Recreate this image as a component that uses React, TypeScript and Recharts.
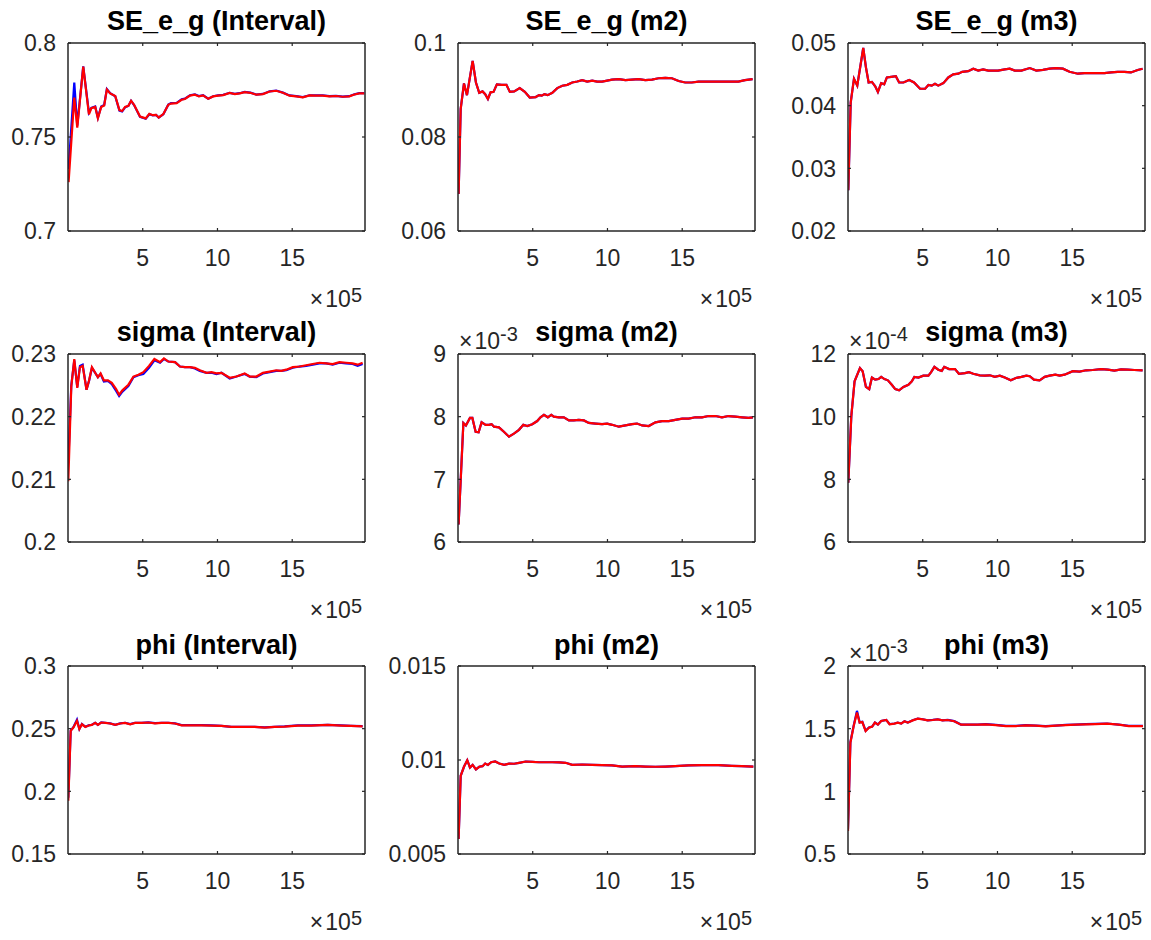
import React from 'react';
import { LineChart, Line, XAxis, YAxis, ReferenceLine } from 'recharts';

const FONT = '"Liberation Sans", Arial, Helvetica, sans-serif';
const AXIS = '#262626';
const X_MAX = 19.87;
const xTicks = [5, 10, 15];
const xTickLabels = ['5', '10', '15'];
const xMultiplierExp = '5';

// ---------- SE_e_g (Interval) ----------
const seIntervalX = [0.04, 0.42, 0.62, 1.02, 1.4, 1.56, 1.82, 2.0, 2.22, 2.42, 2.6, 2.82, 3.16, 3.44, 3.62, 3.82, 4.04, 4.22, 4.42, 4.82, 5.2, 5.44, 5.67, 5.89, 6.07, 6.38, 6.71, 6.89, 7.27, 7.6, 7.82, 8.16, 8.49, 8.76, 9.04, 9.38, 9.71, 10.04, 10.38, 10.82, 11.16, 11.49, 11.82, 12.2, 12.6, 13.04, 13.49, 13.93, 14.38, 14.82, 15.27, 15.71, 16.16, 16.6, 17.04, 17.49, 17.93, 18.38, 18.82, 19.16, 19.49, 19.82];
const seIntervalRed = [0.726, 0.771, 0.755, 0.7874, 0.762, 0.7653, 0.766, 0.760, 0.766, 0.7668, 0.7753, 0.7732, 0.7718, 0.7643, 0.7638, 0.766, 0.7666, 0.7693, 0.7671, 0.7609, 0.7599, 0.7623, 0.7616, 0.7618, 0.7604, 0.7622, 0.7671, 0.7678, 0.768, 0.7698, 0.7702, 0.772, 0.7725, 0.7716, 0.7721, 0.7703, 0.7716, 0.772, 0.7723, 0.7734, 0.7728, 0.7732, 0.7739, 0.7735, 0.7725, 0.7728, 0.7742, 0.7746, 0.7735, 0.772, 0.7716, 0.7711, 0.7721, 0.772, 0.772, 0.7716, 0.7718, 0.7714, 0.7716, 0.7726, 0.7732, 0.7732];
const seIntervalBlue = [0.733, 0.779, 0.756, 0.7876, 0.763, 0.7655, 0.7662, 0.7602, 0.7662, 0.767, 0.7755, 0.7733, 0.7717, 0.764, 0.7636, 0.7658, 0.7665, 0.7692, 0.767, 0.7607, 0.7597, 0.7621, 0.7615, 0.7617, 0.7603, 0.7621, 0.7672, 0.768, 0.7682, 0.77, 0.7704, 0.7722, 0.7727, 0.7718, 0.7722, 0.7704, 0.7717, 0.7721, 0.7724, 0.7735, 0.7729, 0.7733, 0.774, 0.7736, 0.7726, 0.7729, 0.7743, 0.7747, 0.7736, 0.7721, 0.7717, 0.7712, 0.7722, 0.7721, 0.7721, 0.7717, 0.7719, 0.7715, 0.7717, 0.7727, 0.7733, 0.7733];
const seIntervalTicks = [0.7, 0.75, 0.8];
const seIntervalTickLabels = ['0.7', '0.75', '0.8'];

// ---------- SE_e_g (m2) ----------
const seM2X = [0.04, 0.18, 0.4, 0.6, 0.98, 1.2, 1.42, 1.64, 1.82, 2.0, 2.18, 2.38, 2.6, 2.93, 3.24, 3.47, 3.76, 4.13, 4.47, 4.8, 5.2, 5.42, 5.6, 5.78, 6.0, 6.31, 6.64, 6.98, 7.31, 7.64, 7.98, 8.31, 8.64, 8.98, 9.31, 9.64, 9.98, 10.31, 10.76, 11.2, 11.64, 12.09, 12.53, 12.98, 13.42, 13.87, 14.31, 14.76, 15.2, 15.64, 16.09, 16.53, 16.98, 17.42, 17.87, 18.31, 18.76, 19.2, 19.71];
const seM2Red = [0.0679, 0.086, 0.0914, 0.0889, 0.0962, 0.0916, 0.0894, 0.0897, 0.0891, 0.0881, 0.0895, 0.0896, 0.0912, 0.0911, 0.0911, 0.0896, 0.0897, 0.0904, 0.0896, 0.0884, 0.0885, 0.0889, 0.0888, 0.0891, 0.0889, 0.0894, 0.0904, 0.0909, 0.0911, 0.0916, 0.0918, 0.0921, 0.0918, 0.092, 0.0918, 0.0918, 0.092, 0.0922, 0.0923, 0.0921, 0.0922, 0.0923, 0.0921, 0.0922, 0.0925, 0.0926, 0.0925, 0.0919, 0.0916, 0.0916, 0.0918, 0.0918, 0.0918, 0.0918, 0.0918, 0.0918, 0.0918, 0.0921, 0.0923];
const seM2Blue = seM2Red; // the blue chain lies under the red one in this panel
const seM2Ticks = [0.06, 0.08, 0.1];
const seM2TickLabels = ['0.06', '0.08', '0.1'];

// ---------- SE_e_g (m3) ----------
const seM3X = [0.02, 0.18, 0.4, 0.62, 1.02, 1.2, 1.38, 1.6, 1.82, 2.0, 2.22, 2.42, 2.6, 2.89, 3.2, 3.42, 3.71, 4.09, 4.42, 4.82, 5.16, 5.38, 5.6, 5.82, 6.04, 6.38, 6.71, 7.04, 7.38, 7.64, 8.04, 8.38, 8.71, 9.04, 9.38, 9.71, 10.04, 10.49, 10.82, 11.16, 11.6, 12.16, 12.6, 13.04, 13.49, 13.93, 14.38, 14.82, 15.38, 15.82, 16.27, 16.71, 17.16, 17.6, 18.04, 18.49, 18.93, 19.38, 19.71];
const seM3Red = [0.0265, 0.0405, 0.0443, 0.0432, 0.0492, 0.0461, 0.0437, 0.0438, 0.0431, 0.0422, 0.0436, 0.0434, 0.0445, 0.0446, 0.0447, 0.0437, 0.0437, 0.0441, 0.0437, 0.0427, 0.0427, 0.0433, 0.0432, 0.0435, 0.0432, 0.0436, 0.0445, 0.045, 0.0451, 0.0454, 0.0455, 0.0459, 0.0456, 0.0458, 0.0456, 0.0456, 0.0456, 0.0458, 0.0459, 0.0456, 0.0456, 0.046, 0.0456, 0.0457, 0.0459, 0.046, 0.0459, 0.0454, 0.0451, 0.0452, 0.0452, 0.0452, 0.0452, 0.0453, 0.0454, 0.0454, 0.0453, 0.0457, 0.0459];
const seM3Blue = seM3Red;
const seM3Ticks = [0.02, 0.03, 0.04, 0.05];
const seM3TickLabels = ['0.02', '0.03', '0.04', '0.05'];

// ---------- sigma (Interval) ----------
const sigmaIntervalX = [0.02, 0.22, 0.42, 0.62, 0.8, 0.98, 1.24, 1.42, 1.6, 1.82, 2.0, 2.18, 2.4, 2.67, 2.93, 3.22, 3.42, 3.64, 4.04, 4.38, 4.71, 5.04, 5.42, 5.78, 6.16, 6.42, 6.71, 7.16, 7.49, 7.82, 8.16, 8.49, 8.82, 9.27, 9.6, 9.93, 10.27, 10.82, 11.27, 11.82, 12.16, 12.6, 13.04, 13.49, 13.93, 14.27, 14.6, 15.04, 15.49, 15.93, 16.38, 16.82, 17.27, 17.71, 18.16, 18.6, 19.04, 19.38, 19.71];
const sigmaIntervalRed = [0.2097, 0.2248, 0.2292, 0.2246, 0.2279, 0.2281, 0.2243, 0.2259, 0.2279, 0.227, 0.2263, 0.2269, 0.2258, 0.2258, 0.2254, 0.2244, 0.2235, 0.2242, 0.2251, 0.2264, 0.2267, 0.2271, 0.2281, 0.2292, 0.2287, 0.2293, 0.2288, 0.2287, 0.228, 0.2279, 0.2279, 0.2278, 0.2274, 0.227, 0.2271, 0.2269, 0.227, 0.2262, 0.2264, 0.2269, 0.2264, 0.2264, 0.227, 0.2272, 0.2274, 0.2273, 0.2275, 0.2279, 0.228, 0.2282, 0.2284, 0.2286, 0.2285, 0.2284, 0.2287, 0.2286, 0.2285, 0.2283, 0.2286];
const sigmaIntervalBlue = [0.2126, 0.225, 0.229, 0.2247, 0.2281, 0.2283, 0.2243, 0.2258, 0.2278, 0.227, 0.2263, 0.2268, 0.2256, 0.2257, 0.2252, 0.2241, 0.2233, 0.224, 0.2249, 0.2263, 0.2266, 0.2268, 0.2278, 0.229, 0.2286, 0.2292, 0.2288, 0.2287, 0.228, 0.2279, 0.2279, 0.2277, 0.2273, 0.227, 0.227, 0.2268, 0.227, 0.2261, 0.2264, 0.2268, 0.2264, 0.2263, 0.2269, 0.2271, 0.2273, 0.2273, 0.2274, 0.2278, 0.228, 0.2281, 0.2283, 0.2285, 0.2285, 0.2283, 0.2286, 0.2285, 0.2284, 0.2281, 0.2284];
const sigmaIntervalTicks = [0.2, 0.21, 0.22, 0.23];
const sigmaIntervalTickLabels = ['0.2', '0.21', '0.22', '0.23'];

// ---------- sigma (m2) ×10^-3 ----------
const sigmaM2X = [0.04, 0.36, 0.53, 0.8, 0.96, 1.18, 1.38, 1.58, 1.85, 2.07, 2.25, 2.41, 2.74, 3.07, 3.41, 3.74, 4.08, 4.37, 4.63, 4.97, 5.3, 5.52, 5.75, 6.01, 6.24, 6.41, 6.75, 7.08, 7.42, 7.75, 8.08, 8.42, 8.75, 9.2, 9.64, 9.98, 10.31, 10.76, 11.2, 11.65, 11.98, 12.32, 12.76, 13.21, 13.65, 14.1, 14.54, 15.0, 15.43, 15.88, 16.32, 16.77, 17.22, 17.66, 18.1, 18.55, 19.0, 19.44, 19.73];
const sigmaM2Red = [6.28, 7.9, 7.86, 7.98, 7.98, 7.76, 7.75, 7.91, 7.87, 7.87, 7.88, 7.84, 7.83, 7.76, 7.68, 7.73, 7.79, 7.87, 7.85, 7.88, 7.93, 7.99, 8.03, 7.99, 8.03, 8.0, 7.99, 7.99, 7.94, 7.94, 7.95, 7.94, 7.9, 7.89, 7.88, 7.89, 7.87, 7.84, 7.86, 7.88, 7.89, 7.86, 7.85, 7.91, 7.93, 7.93, 7.95, 7.97, 7.97, 7.99, 7.99, 8.01, 8.01, 7.99, 8.01, 8.0, 7.99, 7.98, 7.99];
const sigmaM2Blue = sigmaM2Red;
const sigmaM2Ticks = [6, 7, 8, 9];
const sigmaM2TickLabels = ['6', '7', '8', '9'];

// ---------- sigma (m3) ×10^-4 ----------
const sigmaM3X = [0.02, 0.22, 0.44, 0.8, 0.98, 1.2, 1.42, 1.6, 1.82, 2.04, 2.22, 2.44, 2.67, 2.93, 3.16, 3.42, 3.71, 4.04, 4.27, 4.44, 4.71, 5.04, 5.38, 5.56, 5.78, 6.04, 6.27, 6.44, 6.76, 7.16, 7.42, 7.82, 8.09, 8.38, 8.82, 9.16, 9.49, 9.82, 10.16, 10.49, 10.89, 11.27, 11.6, 11.93, 12.16, 12.44, 12.82, 13.16, 13.49, 13.87, 14.16, 14.49, 15.04, 15.49, 15.93, 16.38, 16.93, 17.38, 17.82, 18.27, 18.71, 19.16, 19.71];
const sigmaM3Red = [7.89, 10.01, 11.13, 11.55, 11.45, 10.95, 10.88, 11.25, 11.18, 11.2, 11.27, 11.2, 11.16, 11.02, 10.88, 10.84, 10.95, 11.02, 11.13, 11.27, 11.25, 11.31, 11.31, 11.42, 11.59, 11.5, 11.46, 11.59, 11.52, 11.52, 11.37, 11.39, 11.42, 11.37, 11.32, 11.31, 11.32, 11.27, 11.31, 11.25, 11.16, 11.24, 11.27, 11.31, 11.29, 11.18, 11.16, 11.27, 11.31, 11.34, 11.31, 11.34, 11.45, 11.44, 11.48, 11.49, 11.52, 11.5, 11.47, 11.51, 11.5, 11.49, 11.48];
const sigmaM3Blue = sigmaM3Red;
const sigmaM3Ticks = [6, 8, 10, 12];
const sigmaM3TickLabels = ['6', '8', '10', '12'];

// ---------- phi (Interval) ----------
const phiIntervalX = [0.02, 0.18, 0.36, 0.6, 0.76, 0.93, 1.16, 1.38, 1.6, 1.82, 2.0, 2.22, 2.49, 2.82, 3.16, 3.49, 3.82, 4.16, 4.49, 4.93, 5.38, 5.82, 6.27, 6.71, 7.16, 7.6, 8.27, 8.93, 9.6, 10.27, 10.93, 11.82, 12.49, 13.16, 13.82, 14.49, 15.38, 16.27, 17.38, 18.27, 18.93, 19.71];
const phiIntervalRed = [0.1925, 0.2482, 0.2509, 0.2562, 0.2496, 0.2535, 0.2514, 0.2525, 0.253, 0.2546, 0.253, 0.2549, 0.2546, 0.2541, 0.253, 0.2541, 0.2546, 0.2535, 0.2546, 0.2546, 0.2549, 0.2543, 0.2546, 0.2546, 0.2541, 0.2527, 0.2527, 0.2527, 0.2525, 0.2522, 0.2514, 0.2514, 0.2514, 0.2509, 0.2514, 0.2517, 0.2525, 0.2525, 0.253, 0.2525, 0.2522, 0.2519];
const phiIntervalBlue = [0.195, 0.2485, 0.2512, 0.2572, 0.2498, 0.2537, 0.2515, 0.2526, 0.2531, 0.2547, 0.2531, 0.255, 0.2547, 0.2542, 0.2531, 0.2542, 0.2547, 0.2536, 0.2547, 0.2547, 0.255, 0.2544, 0.2547, 0.2547, 0.2542, 0.2528, 0.2528, 0.2528, 0.2526, 0.2523, 0.2515, 0.2515, 0.2515, 0.251, 0.2515, 0.2518, 0.2526, 0.2526, 0.2531, 0.2526, 0.2523, 0.252];
const phiIntervalTicks = [0.15, 0.2, 0.25, 0.3];
const phiIntervalTickLabels = ['0.15', '0.2', '0.25', '0.3'];

// ---------- phi (m2) ----------
const phiM2X = [0.04, 0.18, 0.4, 0.62, 0.8, 0.98, 1.2, 1.42, 1.64, 1.82, 2.0, 2.22, 2.49, 2.76, 3.09, 3.42, 3.76, 4.09, 4.53, 4.98, 5.42, 5.87, 6.31, 6.76, 7.2, 7.64, 8.31, 8.98, 9.64, 10.31, 10.98, 11.87, 12.53, 13.2, 13.87, 14.53, 15.42, 16.31, 17.42, 18.31, 18.98, 19.76];
const phiM2Red = [0.0058, 0.00916, 0.00964, 0.00999, 0.0096, 0.00974, 0.0095, 0.00964, 0.00967, 0.00981, 0.00974, 0.00988, 0.00992, 0.00981, 0.00974, 0.00981, 0.0098, 0.00985, 0.00992, 0.0099, 0.00988, 0.00988, 0.00988, 0.00987, 0.00985, 0.00974, 0.00976, 0.00974, 0.00973, 0.00971, 0.00965, 0.00967, 0.00965, 0.00964, 0.00965, 0.00967, 0.00971, 0.00973, 0.00973, 0.00969, 0.00967, 0.00965];
const phiM2Blue = phiM2Red;
const phiM2Ticks = [0.005, 0.01, 0.015];
const phiM2TickLabels = ['0.005', '0.01', '0.015'];

// ---------- phi (m3) ×10^-3 ----------
const phiM3X = [0.0, 0.16, 0.38, 0.6, 0.78, 0.96, 1.18, 1.4, 1.62, 1.8, 2.0, 2.22, 2.56, 2.78, 3.11, 3.33, 3.56, 3.78, 4.0, 4.33, 4.67, 5.0, 5.33, 5.67, 6.0, 6.33, 6.67, 7.11, 7.56, 8.11, 8.67, 9.22, 9.89, 10.56, 11.22, 11.89, 12.56, 13.22, 13.89, 14.56, 15.22, 15.89, 16.56, 17.33, 18.11, 18.78, 19.73];
const phiM3Red = [0.684, 1.388, 1.521, 1.628, 1.548, 1.553, 1.481, 1.508, 1.516, 1.548, 1.532, 1.561, 1.569, 1.535, 1.54, 1.548, 1.54, 1.559, 1.548, 1.566, 1.58, 1.574, 1.566, 1.569, 1.574, 1.566, 1.569, 1.559, 1.532, 1.532, 1.532, 1.535, 1.529, 1.521, 1.521, 1.527, 1.524, 1.519, 1.524, 1.529, 1.532, 1.535, 1.537, 1.54, 1.532, 1.521, 1.521];
const phiM3Blue = [0.70, 1.392, 1.524, 1.642, 1.55, 1.555, 1.483, 1.509, 1.517, 1.549, 1.533, 1.562, 1.57, 1.536, 1.541, 1.549, 1.541, 1.56, 1.549, 1.567, 1.581, 1.575, 1.567, 1.57, 1.575, 1.567, 1.57, 1.56, 1.533, 1.533, 1.533, 1.536, 1.53, 1.522, 1.522, 1.528, 1.525, 1.52, 1.525, 1.53, 1.533, 1.536, 1.538, 1.541, 1.533, 1.522, 1.522];
const phiM3Ticks = [0.5, 1, 1.5, 2];
const phiM3TickLabels = ['0.5', '1', '1.5', '2'];

type Panel = {
  title: string;
  x: number[];
  red: number[];
  blue: number[];
  ticks: number[];
  labels: string[];
  exp: string | null;
};

const panels: Panel[] = [
  { title: 'SE_e_g (Interval)', x: seIntervalX, red: seIntervalRed, blue: seIntervalBlue, ticks: seIntervalTicks, labels: seIntervalTickLabels, exp: null },
  { title: 'SE_e_g (m2)', x: seM2X, red: seM2Red, blue: seM2Blue, ticks: seM2Ticks, labels: seM2TickLabels, exp: null },
  { title: 'SE_e_g (m3)', x: seM3X, red: seM3Red, blue: seM3Blue, ticks: seM3Ticks, labels: seM3TickLabels, exp: null },
  { title: 'sigma (Interval)', x: sigmaIntervalX, red: sigmaIntervalRed, blue: sigmaIntervalBlue, ticks: sigmaIntervalTicks, labels: sigmaIntervalTickLabels, exp: null },
  { title: 'sigma (m2)', x: sigmaM2X, red: sigmaM2Red, blue: sigmaM2Blue, ticks: sigmaM2Ticks, labels: sigmaM2TickLabels, exp: '-3' },
  { title: 'sigma (m3)', x: sigmaM3X, red: sigmaM3Red, blue: sigmaM3Blue, ticks: sigmaM3Ticks, labels: sigmaM3TickLabels, exp: '-4' },
  { title: 'phi (Interval)', x: phiIntervalX, red: phiIntervalRed, blue: phiIntervalBlue, ticks: phiIntervalTicks, labels: phiIntervalTickLabels, exp: null },
  { title: 'phi (m2)', x: phiM2X, red: phiM2Red, blue: phiM2Blue, ticks: phiM2Ticks, labels: phiM2TickLabels, exp: null },
  { title: 'phi (m3)', x: phiM3X, red: phiM3Red, blue: phiM3Blue, ticks: phiM3Ticks, labels: phiM3TickLabels, exp: '-3' },
];

const COL_LEFT = [68, 458, 848];
const ROW_TOP = [42.5, 353.5, 666];
const PW = 297;
const PH = 188;
const ML = 84;
const MT = 40;
const MR = 10;
const XH = 50;
const TICK_FS = 23;
const TICK_LEN = 3;
const FRAME_W = 1.5;

function XTick(props: any) {
  const { x, y, payload } = props;
  const i = xTicks.findIndex((t) => Math.abs(t - payload.value) < 1e-9);
  return (
    <g>
      <line x1={x} y1={y} x2={x} y2={y - TICK_LEN} stroke={AXIS} strokeWidth={1.2} />
      <line x1={x} y1={y - PH} x2={x} y2={y - PH + TICK_LEN} stroke={AXIS} strokeWidth={1.2} />
      <text x={x} y={y + 35} textAnchor="middle" fontSize={TICK_FS} fontFamily={FONT} fill={AXIS}>
        {i >= 0 ? xTickLabels[i] : String(payload.value)}
      </text>
    </g>
  );
}

function makeYTick(p: Panel) {
  return function YTick(props: any) {
    const { x, y, payload } = props;
    const i = p.ticks.findIndex((t) => Math.abs(t - payload.value) < 1e-12);
    return (
      <g>
        <line x1={x} y1={y} x2={x + TICK_LEN} y2={y} stroke={AXIS} strokeWidth={1.2} />
        <line x1={x + PW} y1={y} x2={x + PW - TICK_LEN} y2={y} stroke={AXIS} strokeWidth={1.2} />
        <text x={x - 12} y={y} dy="0.36em" textAnchor="end" fontSize={TICK_FS} fontFamily={FONT} fill={AXIS}>
          {i >= 0 ? p.labels[i] : String(payload.value)}
        </text>
      </g>
    );
  };
}

function PanelChart({ p, left, top }: { p: Panel; left: number; top: number }) {
  const data = p.x.map((x, i) => ({ x, red: p.red[i], blue: p.blue[i] }));
  const domain: [number, number] = [p.ticks[0], p.ticks[p.ticks.length - 1]];
  const YTick = makeYTick(p);
  return (
    <div style={{ position: 'absolute', left: left - ML, top: top - MT }}>
      <LineChart
        width={ML + PW + MR}
        height={MT + PH + XH}
        data={data}
        margin={{ top: MT, right: MR, left: 0, bottom: 0 }}
      >
        <XAxis
          dataKey="x"
          type="number"
          domain={[0, X_MAX]}
          ticks={xTicks}
          allowDataOverflow
          interval={0}
          height={XH}
          tickSize={0}
          tickMargin={0}
          axisLine={{ stroke: AXIS, strokeWidth: FRAME_W }}
          tickLine={false}
          tick={<XTick />}
        />
        <YAxis
          type="number"
          domain={domain}
          ticks={p.ticks}
          allowDataOverflow
          interval={0}
          width={ML}
          tickSize={0}
          tickMargin={0}
          axisLine={{ stroke: AXIS, strokeWidth: FRAME_W }}
          tickLine={false}
          tick={<YTick />}
        />
        <Line dataKey="blue" type="linear" stroke="#0000ff" strokeWidth={2.2} dot={false} isAnimationActive={false} />
        <Line dataKey="red" type="linear" stroke="#ff0000" strokeWidth={2.2} dot={false} isAnimationActive={false} />
        <ReferenceLine y={domain[1]} stroke={AXIS} strokeWidth={FRAME_W} />
        <ReferenceLine x={X_MAX} stroke={AXIS} strokeWidth={FRAME_W} />
      </LineChart>
    </div>
  );
}

export default function App() {
  return (
    <div style={{ position: 'absolute', left: 0, top: 0, width: 1151, height: 940, background: '#fff', overflow: 'hidden' }}>
      {panels.map((p, i) => (
        <PanelChart key={p.title} p={p} left={COL_LEFT[i % 3]} top={ROW_TOP[Math.floor(i / 3)]} />
      ))}
      <svg
        width={1151}
        height={940}
        style={{ position: 'absolute', left: 0, top: 0, pointerEvents: 'none' }}
        fontFamily={FONT}
      >
        {panels.map((p, i) => {
          const left = COL_LEFT[i % 3];
          const top = ROW_TOP[Math.floor(i / 3)];
          return (
            <g key={p.title}>
              <text x={left + PW / 2} y={top - 12.5} textAnchor="middle" fontWeight="bold" fontSize={27} fill="#000">
                {p.title}
              </text>
              <text x={left + PW - 3} y={top + PH + 76} textAnchor="end" fontSize={TICK_FS} fill={AXIS}>
                ×
                <tspan dx={2}>10</tspan>
                <tspan dy={-5} fontSize={20}>{xMultiplierExp}</tspan>
              </text>
              {p.exp && (
                <text x={left + 1} y={top - 5} textAnchor="start" fontSize={TICK_FS} fill={AXIS}>
                  ×
                  <tspan dx={2}>10</tspan>
                  <tspan dy={-8} fontSize={20}>{p.exp}</tspan>
                </text>
              )}
            </g>
          );
        })}
      </svg>
    </div>
  );
}
